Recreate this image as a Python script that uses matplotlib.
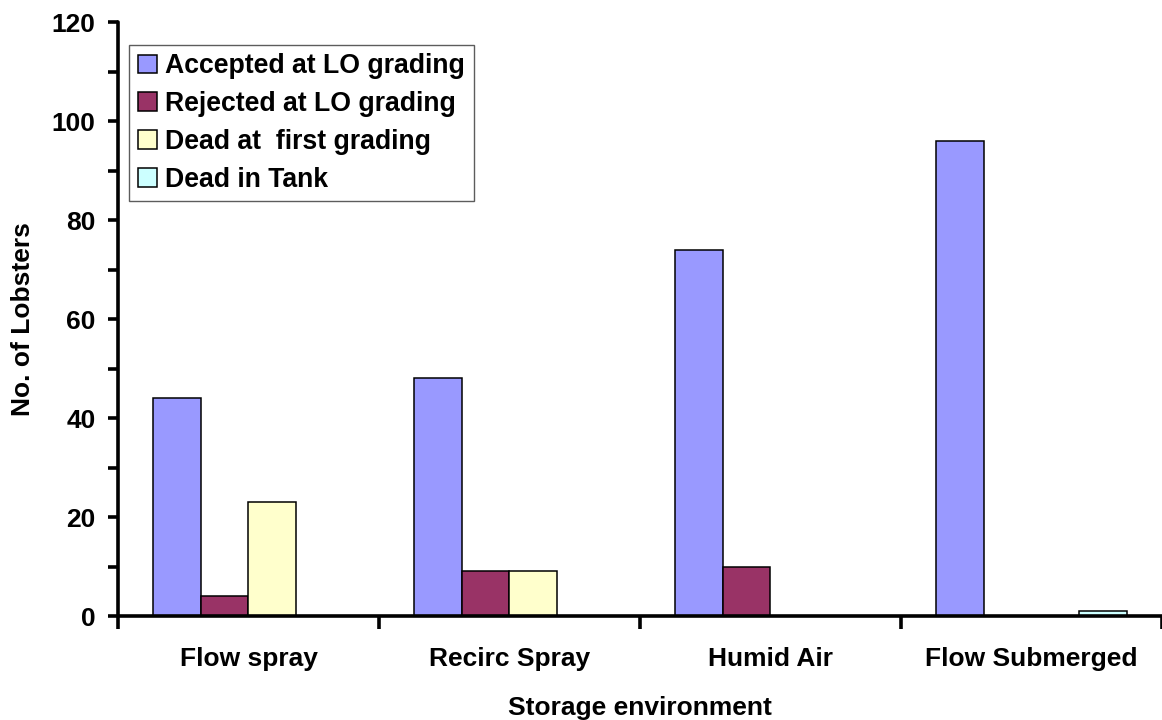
import numpy as np
import matplotlib.pyplot as plt
from matplotlib.ticker import MultipleLocator, FixedLocator

plt.rcParams['font.family'] = ['Liberation Sans', 'DejaVu Sans']
plt.rcParams['font.weight'] = 'bold'

# Lobster counts per storage environment
environments = ["Flow spray", "Recirc Spray", "Humid Air", "Flow Submerged"]
accepted = [44, 48, 74, 96]
rejected = [4, 9, 10, 0]
dead_first = [23, 9, 0, 0]
dead_tank = [0, 0, 0, 1]

series = [
    ("Accepted at LO grading", accepted, "#9999FF"),
    ("Rejected at LO grading", rejected, "#993366"),
    ("Dead at  first grading", dead_first, "#FFFFCC"),
    ("Dead in Tank", dead_tank, "#CCFFFF"),
]

fig = plt.figure(figsize=(11.62, 7.2), dpi=100)
ax = fig.add_axes([0.1015, 0.1444, 0.8985, 0.825])

x = np.arange(len(environments))
w = 0.183
for i, (label, vals, color) in enumerate(series):
    ax.bar(x + (i - 1.5) * w, vals, w, color=color, edgecolor="black",
           linewidth=1.1, label=label, zorder=2)

ax.set_xlim(-0.5, len(environments) - 0.5)
ax.set_ylim(0, 120)
ax.yaxis.set_major_locator(MultipleLocator(20))
ax.yaxis.set_minor_locator(MultipleLocator(10))
ax.set_xticks(x)
ax.set_xticklabels(environments)
ax.xaxis.set_minor_locator(FixedLocator(np.arange(-0.5, len(environments), 1.0)))

for side in ("top", "right"):
    ax.spines[side].set_visible(False)
for side in ("left", "bottom"):
    ax.spines[side].set_linewidth(2.6)
    ax.spines[side].set_capstyle("round")

ax.tick_params(axis="y", which="both", direction="out", length=7, width=2.6,
               labelsize=19, pad=9)
ax.tick_params(axis="x", which="major", length=0, labelsize=19, pad=22)
ax.tick_params(axis="x", which="minor", direction="out", length=9, width=2.6)

ax.set_xlabel("Storage environment", fontsize=19, fontweight="bold", labelpad=18)
ax.set_ylabel("No. of Lobsters", fontsize=19, fontweight="bold", labelpad=12)

leg = ax.legend(loc="upper left", bbox_to_anchor=(0.011, 0.962), fontsize=19.2,
                frameon=True, fancybox=False, handlelength=0.7, handleheight=0.7,
                handletextpad=0.3, labelspacing=0.44, borderpad=0.33,
                borderaxespad=0)
leg.get_frame().set_edgecolor("#333333")
leg.get_frame().set_linewidth(1.0)

fig.savefig("out.png", dpi=100)
